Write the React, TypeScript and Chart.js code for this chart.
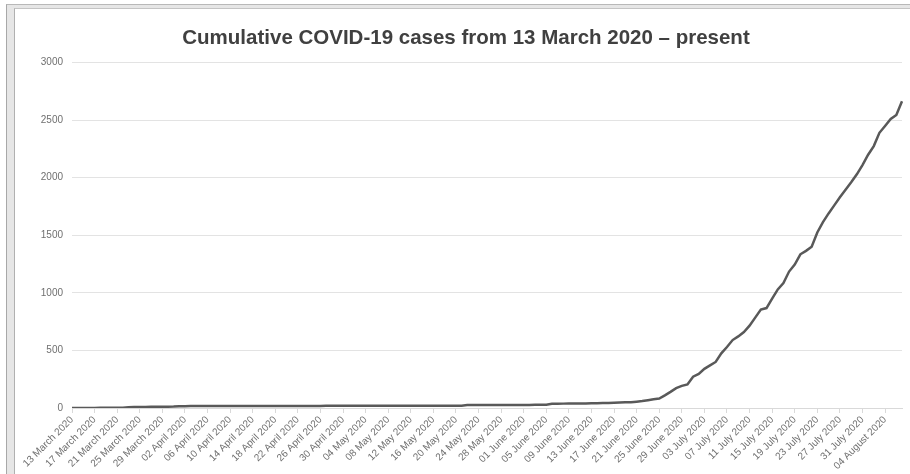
import React, { useEffect, useRef } from "react";
import { Chart, registerables } from "chart.js";

Chart.register(...registerables);

const TITLE = "Cumulative COVID-19 cases from 13 March 2020 – present";
const MONTHS = ["January", "February", "March", "April", "May", "June", "July", "August"];
const START = { year: 2020, month: 2, day: 13 };
const DAY_COUNT = 148;
const LABEL_EVERY = 4;
const Y_TICKS = [0, 500, 1000, 1500, 2000, 2500, 3000];

const CASES = [
  1, 1, 1, 1, 1, 2, 2, 2, 3, 3,
  7, 8, 9, 9, 10, 10, 11, 11, 12, 16,
  16, 17, 17, 17, 17, 18, 18, 18, 18, 18, 18, 18, 18, 18, 18, 18, 18, 18, 18, 18,
  18, 18, 18, 18, 18, 19, 19, 19, 19, 19, 19, 19, 19, 19, 19, 19, 19, 19, 19, 19,
  19, 19, 19, 19, 19, 19, 20, 20, 20, 20,
  25, 26, 26, 26, 26, 26, 26, 27, 27, 27, 27, 27, 28, 28, 29,
  36, 37, 38, 38, 39, 40, 40, 41, 42, 43, 44, 45, 47, 49, 51,
  55, 60, 68, 76,
  82, 110, 140, 172, 192, 205, 272, 296, 340, 370, 400, 475, 530, 590, 622, 660,
  715, 785, 855, 868, 950, 1030, 1085, 1185, 1245, 1335, 1365, 1400, 1525, 1615,
  1690, 1760, 1830, 1895, 1960, 2030, 2110, 2200, 2275, 2390, 2450, 2510, 2545, 2665,
];

function buildLabels(): string[] {
  const out: string[] = [];
  for (let i = 0; i < DAY_COUNT; i++) {
    const d = new Date(Date.UTC(START.year, START.month, START.day + i));
    const dd = String(d.getUTCDate()).padStart(2, "0");
    out.push(`${dd} ${MONTHS[d.getUTCMonth()]} ${d.getUTCFullYear()}`);
  }
  return out;
}
const DATES = buildLabels();

const FONT = "'Liberation Sans', Arial, sans-serif";

export default function App() {
  const ref = useRef<HTMLCanvasElement | null>(null);
  useEffect(() => {
    if (!ref.current) return;
    const chart = new Chart(ref.current, {
      type: "line",
      data: {
        labels: DATES,
        datasets: [
          {
            data: CASES,
            borderColor: "#595959",
            borderWidth: 2.5,
            pointRadius: 0,
            tension: 0,
            fill: false,
          },
        ],
      },
      options: {
        animation: false,
        responsive: false,
        maintainAspectRatio: false,
        layout: { padding: { left: 30, right: 8, top: 0, bottom: 0 } },
        plugins: {
          legend: { display: false },
          tooltip: { enabled: false },
          title: {
            display: true,
            text: TITLE,
            color: "#404040",
            font: { family: FONT, size: 20.5, weight: "bold" },
            padding: { top: 26, bottom: 12 },
          },
        },
        scales: {
          x: {
            type: "category",
            offset: false,
            afterFit: (s: any) => {
              s.height = 66;
            },
            grid: {
              drawOnChartArea: false,
              drawTicks: true,
              tickLength: 5,
              color: "#d9d9d9",
            },
            border: { display: true, color: "#d9d9d9" },
            ticks: {
              autoSkip: false,
              minRotation: 45,
              maxRotation: 45,
              padding: 1,
              color: "#6f6f6f",
              font: { family: FONT, size: 10 },
              callback: (_v: any, i: number) => (i % LABEL_EVERY === 0 ? DATES[i] : null),
            },
          },
          y: {
            min: 0,
            max: 3000,
            afterFit: (s: any) => {
              s.width = 42;
            },
            afterBuildTicks: (s: any) => {
              s.ticks = Y_TICKS.map((v) => ({ value: v }));
            },
            grid: { color: "#e3e3e3", drawTicks: false, lineWidth: 1 },
            border: { display: false },
            ticks: {
              padding: 9,
              color: "#6f6f6f",
              font: { family: FONT, size: 10 },
              callback: (v: any) => String(v),
            },
          },
        },
      },
    });
    return () => chart.destroy();
  }, []);

  return (
    <div>
      <div
        style={{
          position: "fixed",
          left: 6,
          top: 4,
          width: 910,
          height: 480,
          background: "#e6e6e6",
          borderLeft: "1px solid #a8a8a8",
          borderTop: "1px solid #b8b8b8",
        }}
      />
      <div
        style={{
          position: "fixed",
          left: 14,
          top: 8,
          width: 910,
          height: 480,
          background: "#ffffff",
          borderLeft: "1px solid #b0b0b0",
          borderTop: "1px solid #c4c4c4",
        }}
      />
      <canvas
        ref={ref}
        width={910}
        height={474}
        style={{ position: "fixed", left: 0, top: 0, width: 910, height: 474 }}
      />
    </div>
  );
}
